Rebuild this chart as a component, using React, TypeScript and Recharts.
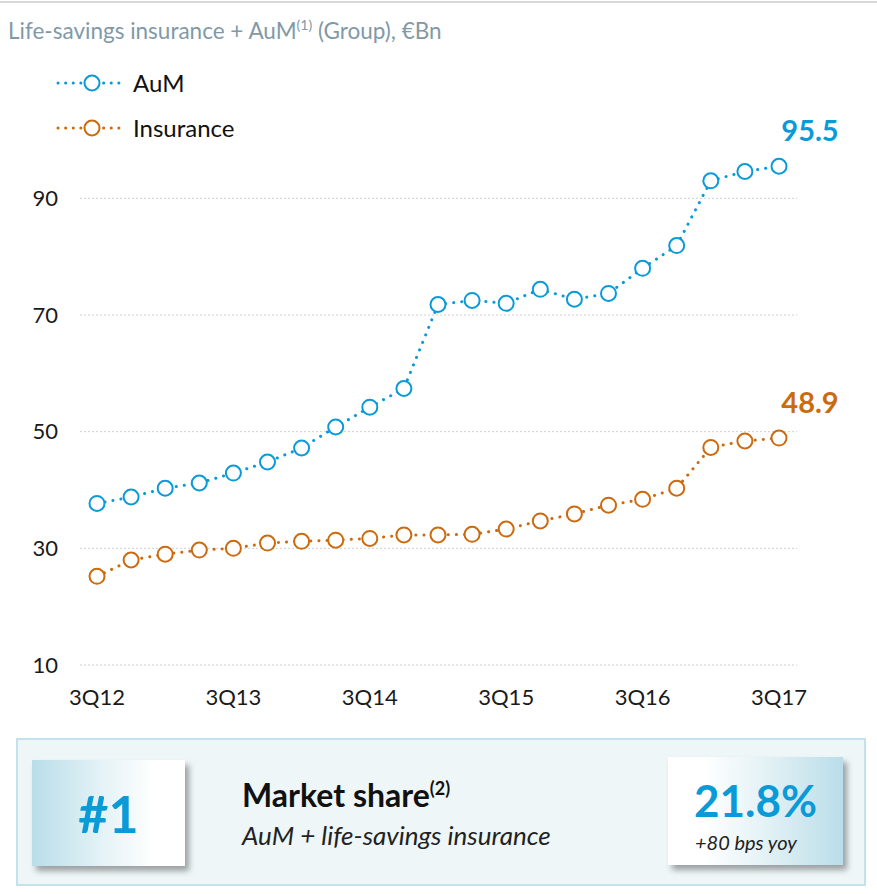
import { LineChart, Line, XAxis, YAxis, CartesianGrid } from 'recharts';

const quarters = [
  '3Q12', '4Q12', '1Q13', '2Q13', '3Q13', '4Q13', '1Q14', '2Q14', '3Q14', '4Q14', '1Q15',
  '2Q15', '3Q15', '4Q15', '1Q16', '2Q16', '3Q16', '4Q16', '1Q17', '2Q17', '3Q17',
];
const aum = [
  37.7, 38.8, 40.3, 41.2, 42.9, 44.8, 47.2, 50.8, 54.2, 57.4, 71.8,
  72.5, 72.0, 74.4, 72.7, 73.7, 78.0, 81.9, 93.0, 94.6, 95.5,
];
const insurance = [
  25.2, 28.0, 29.0, 29.7, 30.0, 30.9, 31.2, 31.4, 31.7, 32.3, 32.3,
  32.4, 33.3, 34.7, 35.9, 37.4, 38.4, 40.3, 47.3, 48.4, 48.9,
];
const yTicks = [10, 30, 50, 70, 90];

const BLUE = '#0a9ad8';
const ORANGE = '#cc6a0e';
const FONT = 'Lato, "Open Sans", sans-serif';

const data = quarters.map((q, i) => ({ q, aum: aum[i], insurance: insurance[i] }));

const seriesMeta = [
  { key: 'aum', name: 'AuM', color: BLUE },
  { key: 'insurance', name: 'Insurance', color: ORANGE },
];

function LegendBox() {
  return (
    <div style={{ position: 'absolute', left: 55, top: 60, fontFamily: FONT }}>
      {seriesMeta.map(s => (
        <div key={s.key} style={{ display: 'flex', alignItems: 'center', height: 45 }}>
          <svg width={68} height={20}>
            <line x1={3} y1={10} x2={65} y2={10} stroke={s.color} strokeWidth={3}
              strokeDasharray="0.1 7.5" strokeLinecap="round" />
            <circle cx={37} cy={10} r={7.5} fill="#fff" stroke={s.color} strokeWidth={2} />
          </svg>
          <span style={{ fontSize: 24, color: '#111', marginLeft: 10 }}>{s.name}</span>
        </div>
      ))}
    </div>
  );
}

const lastLabel = (color: string) => (props: any) => {
  const { x, y, index, value } = props;
  if (index !== quarters.length - 1) return null;
  return (
    <text x={x + 31} y={y - 25} textAnchor="middle" fill={color}
      style={{ fontFamily: FONT, fontSize: 29, fontWeight: 700 }}>
      {Number(value).toFixed(1)}
    </text>
  );
};

export default function App() {
  return (
    <div style={{ position: 'relative', width: 877, height: 894, background: '#fff', fontFamily: FONT }}>
      <style>{`body{margin:0}`}</style>
      <div style={{ position: 'absolute', left: 0, top: 1, width: 877, height: 2, background: '#d9d9d9' }} />
      <div style={{ position: 'absolute', left: 8, top: 16, fontSize: 22.5, color: '#8199a7', whiteSpace: 'nowrap' }}>
        Life-savings insurance + AuM<sup style={{ fontSize: 14 }}>(1)</sup> (Group), €Bn
      </div>

      <div style={{ position: 'absolute', left: 0, top: 0 }}>
        <LineChart width={877} height={720} data={data}
          margin={{ top: 140, right: 80, bottom: 15, left: 0 }}>
          <CartesianGrid vertical={false} horizontalValues={yTicks} stroke="#cfcfcf" strokeDasharray="2 2" />
          <XAxis dataKey="q" interval={3} axisLine={false} tickLine={false} height={40}
            padding={{ left: 17, right: 18 }} tickMargin={18}
            tick={{ fontSize: 22, fill: '#1a1a1a', fontFamily: FONT }} />
          <YAxis domain={[10, 100]} ticks={yTicks} axisLine={false} tickLine={false} width={80}
            tickSize={0} tickMargin={22}
            tick={{ fontSize: 22, fill: '#1a1a1a', fontFamily: FONT }} />
          {seriesMeta.map(s => (
            <Line key={s.key} dataKey={s.key} name={s.name} type="linear" stroke={s.color}
              strokeWidth={3} strokeDasharray="0.1 8" strokeLinecap="round"
              dot={{ r: 7.5, fill: '#fff', stroke: s.color, strokeWidth: 2, strokeDasharray: '' }}
              activeDot={false} isAnimationActive={false} label={lastLabel(s.color)} />
          ))}
        </LineChart>
      </div>
      <LegendBox />

      <div style={{
        position: 'absolute', left: 16, top: 738, width: 846, height: 144,
        border: '2px solid #c3e2ec', background: '#eef6f8', boxSizing: 'content-box',
      }} />
      <div style={{
        position: 'absolute', left: 32, top: 760, width: 153, height: 106,
        background: 'linear-gradient(90deg, #b9dde9 0%, #e4f2f6 45%, #ffffff 80%)',
        boxShadow: '4px 5px 6px rgba(0,0,0,0.35)', display: 'flex',
        alignItems: 'center', justifyContent: 'center',
      }}>
        <span style={{ fontSize: 52, fontWeight: 700, color: BLUE }}>#1</span>
      </div>
      <div style={{ position: 'absolute', left: 242, top: 775, fontSize: 32, fontWeight: 700, color: '#111', whiteSpace: 'nowrap' }}>
        Market share<sup style={{ fontSize: 18 }}>(2)</sup>
      </div>
      <div style={{ position: 'absolute', left: 242, top: 819, fontSize: 26, fontStyle: 'italic', color: '#222', whiteSpace: 'nowrap' }}>
        AuM + life-savings insurance
      </div>
      <div style={{
        position: 'absolute', left: 668, top: 757, width: 175, height: 108,
        background: 'linear-gradient(90deg, #ffffff 20%, #e4f2f6 55%, #b9dde9 100%)',
        boxShadow: '4px 5px 6px rgba(0,0,0,0.35)',
      }}>
        <div style={{ position: 'absolute', left: 0, width: 175, top: 17, textAlign: 'center', fontSize: 44, fontWeight: 700, color: BLUE }}>
          21.8%
        </div>
        <div style={{ position: 'absolute', left: 27, top: 73, fontSize: 20, fontStyle: 'italic', color: '#222', whiteSpace: 'nowrap' }}>
          +80 bps yoy
        </div>
      </div>
    </div>
  );
}
